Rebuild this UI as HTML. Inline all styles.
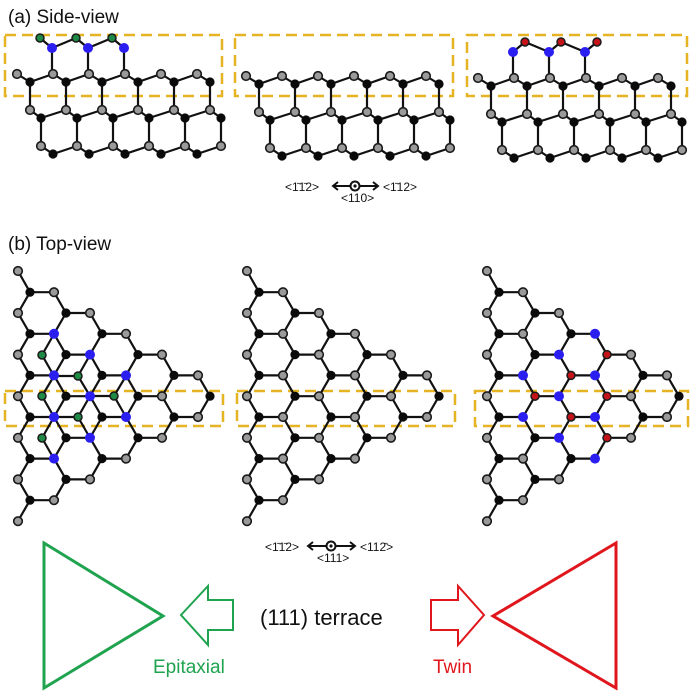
<!DOCTYPE html>
<html><head><meta charset="utf-8"><style>
html,body{margin:0;padding:0;background:#fff;}
svg{display:block;}
text{font-family:"Liberation Sans",sans-serif;}
</style></head><body>
<svg id="s" width="692" height="695" viewBox="0 0 692 695" xmlns="http://www.w3.org/2000/svg">
<rect width="692" height="695" fill="#fff"/>
<text x="8" y="23" font-size="19" fill="#111">(a) Side-view</text>
<text x="8" y="250" font-size="19" fill="#111">(b) Top-view</text>
<g id="dash" fill="none" stroke="#e6b422" stroke-width="2.5" stroke-dasharray="11,6">
<rect x="5" y="35" width="217" height="61"/>
<rect x="235" y="35" width="218" height="61"/>
<rect x="467" y="35" width="220" height="61"/>
<rect x="5" y="391" width="218" height="35"/>
<rect x="237" y="391" width="218" height="35"/>
<rect x="475" y="391" width="213" height="35"/>
</g>
<g id="lat"></g>
<!-- side-view direction labels -->
<text x="285" y="191" font-size="12" fill="#111">&lt;1̄1̄2&gt;</text>
<text x="383" y="191" font-size="12" fill="#111">&lt;1̄12&gt;</text>
<text x="341" y="202" font-size="12" fill="#111">&lt;110&gt;</text>
<g stroke="#111" stroke-width="2" fill="none">
<line x1="333" y1="186" x2="378" y2="186"/>
<polyline points="338,182 333,186 338,190"/>
<polyline points="373,182 378,186 373,190"/>
<circle cx="355" cy="186" r="4.5" fill="#fff"/>
</g>
<circle cx="355" cy="186" r="1.6" fill="#111"/>
<!-- top-view direction labels -->
<text x="265" y="551" font-size="12" fill="#111">&lt;1̄1̄2&gt;</text>
<text x="360" y="551" font-size="12" fill="#111">&lt;112̄&gt;</text>
<text x="317" y="562" font-size="12" fill="#111">&lt;111&gt;</text>
<g stroke="#111" stroke-width="2" fill="none">
<line x1="308" y1="546" x2="355" y2="546"/>
<polyline points="313,542 308,546 313,550"/>
<polyline points="350,542 355,546 350,550"/>
<circle cx="331" cy="546" r="4.5" fill="#fff"/>
</g>
<circle cx="331" cy="546" r="1.6" fill="#111"/>
<!-- bottom -->
<polygon points="44,543 163,616 44,688" fill="none" stroke="#1fa34f" stroke-width="3"/>
<polygon points="181,615 208,586 208,600 233,600 233,630 208,630 208,645" fill="none" stroke="#1fa34f" stroke-width="2"/>
<text x="153" y="673" font-size="19" fill="#1fa34f">Epitaxial</text>
<text x="260" y="625" font-size="22" fill="#111">(111) terrace</text>
<polygon points="484,615 458,586 458,600 431,600 431,630 458,630 458,645" fill="none" stroke="#e0161d" stroke-width="2"/>
<text x="433" y="673" font-size="19" fill="#e0161d">Twin</text>
<polygon points="616,543 493,616 616,688" fill="none" stroke="#e0161d" stroke-width="3"/>
</svg>
<script>
(function(){
var NS="http://www.w3.org/2000/svg",g=document.getElementById("lat");
var lines=[],nodes=[];
function L(a,b,c,d){lines.push([a,b,c,d]);}
function N(x,y,t){nodes.push([x,y,t]);}
function el(n,at){var e=document.createElementNS(NS,n);for(var k in at)e.setAttribute(k,at[k]);g.appendChild(e);}
// side view
function side(ox,oy,mode){
 var r1=[],r2=[],r3=[],i;
 for(i=0;i<6;i++){r1.push([17+36*i,74,'g']);r1.push([30+36*i,82,'b']);}
 for(i=0;i<6;i++){r2.push([30+36*i,110,'g']);r2.push([41+36*i,118,'b']);}
 for(i=0;i<5;i++){r3.push([41+36*i,146,'g']);r3.push([53+36*i,154,'b']);}
 r3.push([221,146,'g']);
 [r1,r2,r3].forEach(function(r){for(var j=0;j<r.length-1;j++)L(r[j][0]+ox,r[j][1]+oy,r[j+1][0]+ox,r[j+1][1]+oy);});
 for(i=0;i<6;i++){L(30+36*i+ox,82+oy,30+36*i+ox,110+oy);L(41+36*i+ox,118+oy,41+36*i+ox,146+oy);}
 if(mode){
  var ad=[];
  for(i=0;i<3;i++){
   if(mode==1){ad.push([40+36*i,38,'gr']);ad.push([52+36*i,48,'bl']);}
   else{ad.push([52+36*i,48,'bl']);ad.push([64+36*i,38,'rd']);}
   L(52+36*i+ox,48+oy,52+36*i+ox,74+oy);
  }
  for(i=0;i<ad.length-1;i++)L(ad[i][0]+ox,ad[i][1]+oy,ad[i+1][0]+ox,ad[i+1][1]+oy);
  ad.forEach(function(p){nodes.push([p[0]+ox,p[1]+oy,p[2]]);});
 }
 r1.concat(r2,r3).forEach(function(p){
  var t=p[2];
  if(mode&&p[1]==74&&(p[0]==52||p[0]==88||p[0]==124))t='g';
  nodes.push([p[0]+ox,p[1]+oy,t]);});
}
side(0,0,1);side(229,2,0);side(461,4,2);
// top view
function top(ox,mode){
 var H=20.8,vs={},es={};
 function key(x,y){return Math.round(x)+","+Math.round(y);}
 for(var c=0;c<5;c++)for(var k=0;k<5-c;k++){
  var cx=42+36*c,cy=313+H*c+2*H*k;
  var v=[[cx-24,cy,'g'],[cx-12,cy-H,'b'],[cx+12,cy-H,'g'],[cx+24,cy,'b'],[cx+12,cy+H,'g'],[cx-12,cy+H,'b']];
  for(var j=0;j<6;j++){var a=v[j],b=v[(j+1)%6];vs[key(a[0],a[1])]=a;
   var ka=key(a[0],a[1]),kb=key(b[0],b[1]);var ek=ka<kb?ka+"|"+kb:kb+"|"+ka;
   if(!es[ek]){es[ek]=1;L(a[0]+ox,a[1],b[0]+ox,b[1]);}}
 }
 L(30+ox,292.2,18+ox,271);L(30+ox,500+H*0+0.2,18+ox,521);
 var bot=313+4*2*H+H;
 vs["s1"]=[18,271,'g'];vs["s2"]=[18,bot+21,'g'];
 var blue=[],spec=[];
 if(mode==1){blue=[[54,334],[90,355],[54,376],[126,376],[90,396],[54,417],[126,417],[90,438],[54,459]];
  spec=[[42,355],[78,376],[42,396],[114,396],[78,417],[42,438]];}
 if(mode==2){blue=[[126,334],[90,355],[54,376],[126,376],[90,396],[54,417],[126,417],[90,438],[126,459]];
  spec=[[138,355],[102,376],[66,396],[138,396],[102,417],[138,438]];}
 function near(x,y,arr){for(var i=0;i<arr.length;i++)if(Math.abs(arr[i][0]-x)<4&&Math.abs(arr[i][1]-y)<4)return true;return false;}
 if(mode==1){spec.forEach(function(s){blue.forEach(function(b){var d=Math.hypot(s[0]-b[0],s[1]-b[1]);if(d<27)L(s[0]+ox,s[1],b[0]+ox,b[1]);});});}
 for(var kk in vs){var p=vs[kk],t=p[2];
  if(near(p[0],p[1],blue))t='bl';
  if(mode==2&&near(p[0],p[1],spec))t='rd';
  nodes.push([p[0]+ox,p[1],t]);}
 if(mode==1)spec.forEach(function(s){nodes.push([s[0]+ox,s[1],'gr']);});
}
top(0,1);top(229,0);top(469,2);
lines.forEach(function(l){el("line",{x1:l[0],y1:l[1],x2:l[2],y2:l[3],stroke:"#111","stroke-width":2.2});});
nodes.forEach(function(n){
 var t=n[2];
 if(t=='g')el("circle",{cx:n[0],cy:n[1],r:4.3,fill:"#9a9a9a",stroke:"#1a1a1a","stroke-width":1.6});
 else if(t=='b')el("circle",{cx:n[0],cy:n[1],r:4.6,fill:"#0a0a0a"});
 else if(t=='bl')el("circle",{cx:n[0],cy:n[1],r:5,fill:"#2b1ef0"});
 else if(t=='gr')el("circle",{cx:n[0],cy:n[1],r:4,fill:"#1e8a45",stroke:"#1a1a1a","stroke-width":1.5});
 else if(t=='rd')el("circle",{cx:n[0],cy:n[1],r:4,fill:"#c4141a",stroke:"#1a1a1a","stroke-width":1.5});
});
})();
</script>
</body></html>
